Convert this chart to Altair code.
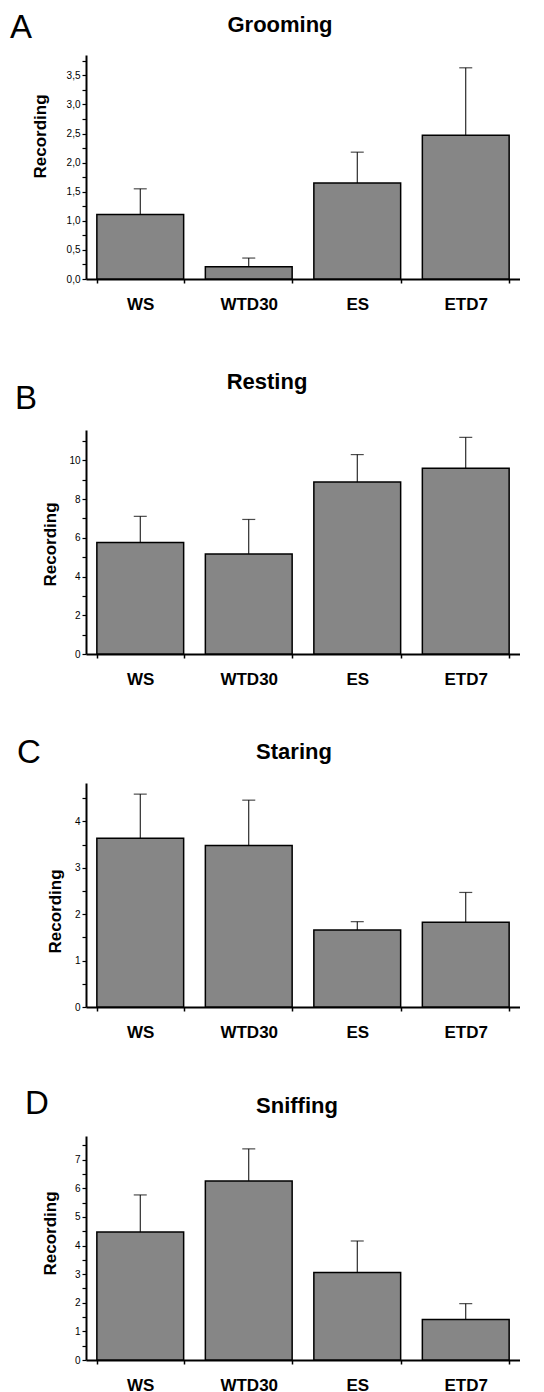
import altair as alt
import pandas as pd

categories = ["WS", "WTD30", "ES", "ETD7"]

grooming_mean = [1.11, 0.21, 1.65, 2.47]
grooming_sem = [0.44, 0.15, 0.53, 1.16]
resting_mean = [5.76, 5.17, 8.88, 9.59]
resting_sem = [1.35, 1.78, 1.42, 1.60]
staring_mean = [3.64, 3.48, 1.66, 1.83]
staring_sem = [0.95, 0.98, 0.18, 0.64]
sniffing_mean = [4.47, 6.26, 3.06, 1.42]
sniffing_sem = [1.30, 1.12, 1.10, 0.55]

grooming_ticks = [0, 0.25, 0.5, 0.75, 1, 1.25, 1.5, 1.75, 2, 2.25, 2.5, 2.75, 3, 3.25, 3.5, 3.75]
resting_ticks = [0, 1, 2, 3, 4, 5, 6, 7, 8, 9, 10, 11]
staring_ticks = [0, 0.5, 1, 1.5, 2, 2.5, 3, 3.5, 4, 4.5]
sniffing_ticks = [0, 0.5, 1, 1.5, 2, 2.5, 3, 3.5, 4, 4.5, 5, 5.5, 6, 6.5, 7, 7.5]

FONT = "Liberation Sans"
W = 434
H = 224
BAR_FILL = "#868686"


def panel(letter, name, mean, sem, ymax, ticks, label_expr, geom):
    df = pd.DataFrame({
        "cat": categories,
        "mean": mean,
        "top": [m + s for m, s in zip(mean, sem)],
    })
    xscale = alt.Scale(paddingInner=0.2, paddingOuter=0.1)
    xaxis = alt.Axis(
        labelAngle=0, labelFont=FONT, labelFontSize=17, labelFontWeight="bold",
        labelColor="black", labelPadding=13, tickBand="extent", tickSize=4,
        tickColor="black", tickWidth=1.5, domainColor="black", domainWidth=2,
    )
    yscale = alt.Scale(domain=[0, ymax], nice=False, zero=True)
    yaxis = alt.Axis(
        values=ticks, labelExpr=label_expr, grid=False,
        labelFont=FONT, labelFontSize=10, labelColor="black", labelPadding=2,
        tickSize=4, tickColor="black", tickWidth=1.2,
        domainColor="black", domainWidth=2,
        titleFont=FONT, titleFontSize=17, titleFontWeight="bold", titleColor="black",
        titleX=geom["ytx"], titleY=geom["yty"], titleBaseline="middle", titleAngle=270,
    )
    x = alt.X("cat:N", sort=categories, title=None, scale=xscale, axis=xaxis)
    bars = alt.Chart(df).mark_bar(fill=BAR_FILL, stroke="black", strokeWidth=1.5).encode(
        x=x, y=alt.Y("mean:Q", title="Recording", scale=yscale, axis=yaxis)
    )
    err = alt.Chart(df).mark_rule(color="black", strokeWidth=1).encode(
        x=x,
        y=alt.Y("mean:Q", title="Recording", scale=yscale, axis=yaxis),
        y2="top:Q",
    )
    cap = alt.Chart(df).mark_tick(color="black", thickness=1.2, size=13).encode(
        x=x,
        y=alt.Y("top:Q", title="Recording", scale=yscale, axis=yaxis),
    )
    title = alt.Chart(pd.DataFrame({"t": [name]})).mark_text(
        font=FONT, fontSize=22, fontWeight="bold", color="black",
        align="center", baseline="alphabetic",
    ).encode(text="t:N", x=alt.value(geom["tx"]), y=alt.value(geom["ty"]))
    letter_mark = alt.Chart(pd.DataFrame({"t": [letter]})).mark_text(
        font=FONT, fontSize=33, color="black", align="left", baseline="alphabetic",
    ).encode(text="t:N", x=alt.value(geom["lx"]), y=alt.value(geom["ly"]))
    spacer = alt.Chart(pd.DataFrame({"s": [0]})).mark_rule(strokeOpacity=0, opacity=0).encode(
        x=alt.value(-78), x2=alt.value(0), y=alt.value(geom["top"]), y2=alt.value(geom["bottom"]),
    )
    return alt.layer(bars, err, cap, title, letter_mark, spacer).properties(width=W, height=H)


comma1 = "(datum.value * 2) % 1 == 0 ? replace(format(datum.value, '.1f'), '.', ',') : ''"
even = "datum.value % 2 == 0 ? format(datum.value, 'd') : ''"
integer = "datum.value % 1 == 0 ? format(datum.value, 'd') : ''"

pA = panel("A", "Grooming", grooming_mean, grooming_sem, 3.85, grooming_ticks, comma1,
           dict(ytx=-46, yty=81, tx=194, ty=-23, lx=-76, ly=-17, top=-47, bottom=H + 40))
pB = panel("B", "Resting", resting_mean, resting_sem, 11.57, resting_ticks, even,
           dict(ytx=-36, yty=114, tx=181, ty=-41, lx=-71, ly=-21, top=-111, bottom=H + 40))
pC = panel("C", "Staring", staring_mean, staring_sem, 4.83, staring_ticks, integer,
           dict(ytx=-31, yty=128, tx=208, ty=-24, lx=-69, ly=-20, top=-89, bottom=H + 40))
pD = panel("D", "Sniffing", sniffing_mean, sniffing_sem, 7.83, sniffing_ticks, integer,
           dict(ytx=-36, yty=97, tx=211, ty=-23, lx=-61, ly=-22, top=-89, bottom=H + 40))

chart = alt.vconcat(pA, pB, pC, pD, spacing=0).properties(padding=0).configure_view(strokeWidth=0)

chart.save("out.html", embed_options={"renderer": "svg", "actions": False})
